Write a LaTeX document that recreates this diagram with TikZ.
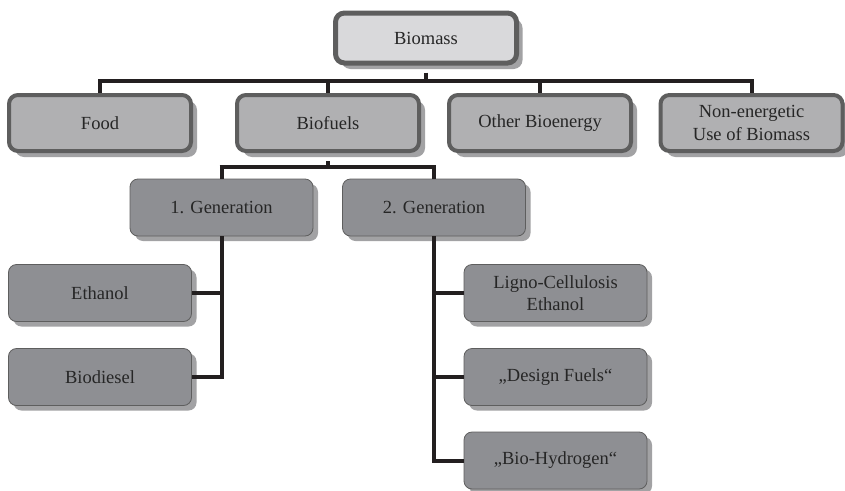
\documentclass[tikz,border=0pt]{standalone}
\usepackage{fontspec}
\setmainfont{Liberation Serif}
\usetikzlibrary{shadows}
\definecolor{topfill}{HTML}{D9D9DB}
\definecolor{midfill}{HTML}{B0B0B2}
\definecolor{lowfill}{HTML}{8E8F93}
\definecolor{bordergray}{HTML}{5E5E5E}
\definecolor{shadowgray}{HTML}{A2A2A4}
\definecolor{lineblack}{HTML}{231F20}
\tikzset{
  topbox/.style={draw=bordergray, line width=5pt, fill=topfill, rounded corners=9pt,
    minimum width=181pt, minimum height=50pt, align=center, inner sep=0pt,
    drop shadow={shadow xshift=6pt, shadow yshift=-6pt, fill=shadowgray, opacity=1}},
  midbox/.style={draw=bordergray, line width=4pt, fill=midfill, rounded corners=9pt,
    minimum width=182pt, minimum height=56pt, align=center, inner sep=0pt,
    drop shadow={shadow xshift=6pt, shadow yshift=-6pt, fill=shadowgray, opacity=1}},
  lowbox/.style={draw=bordergray, line width=0.8pt, fill=lowfill, rounded corners=8pt,
    minimum width=183pt, minimum height=57pt, align=center, inner sep=0pt,
    drop shadow={shadow xshift=5pt, shadow yshift=-5pt, fill=shadowgray, opacity=1}},
  conn/.style={draw=lineblack, line width=4pt},
}
\begin{document}
\begin{tikzpicture}[x=1pt, y=-1pt, font=\fontsize{18.5}{22.5}\selectfont, text=black!85]
\useasboundingbox (0,0) rectangle (845,490);
\fill[white] (0,0) rectangle (845,490);
\coordinate (barA) at (0,81);
\coordinate (barB) at (0,167);
% nodes
\node[topbox] (bio) at (426,38) {Biomass};
\node[midbox] (food) at (100,123) {Food};
\node[midbox] (fuels) at (328,123) {Biofuels};
\node[midbox] (other) at (540,123) {Other Bioenergy};
\node[midbox] (nonen) at (751.5,123) {Non-energetic\\Use of Biomass};
\node[lowbox] (gen1) at (221.5,207.5) {1. Generation};
\node[lowbox] (gen2) at (434,207.5) {2. Generation};
\node[lowbox] (eth) at (100,293) {Ethanol};
\node[lowbox] (dies) at (100,377) {Biodiesel};
\node[lowbox] (ligno) at (555.5,293) {Ligno-Cellulosis\\Ethanol};
\node[lowbox] (design) at (555.5,377) {„Design Fuels“};
\node[lowbox] (hydro) at (555.5,460.5) {„Bio-Hydrogen“};
% level 1 to level 2
\draw[conn] (bio.south) ++(0,7) -- (bio.south |- barA);
\draw[conn] (food.north |- barA) ++(-2,0) -- (nonen.north |- barA) -- ++(2,0);
\draw[conn] (food.north |- barA) -- (food.north);
\draw[conn] (fuels.north |- barA) -- (fuels.north);
\draw[conn] (other.north |- barA) -- (other.north);
\draw[conn] (nonen.north |- barA) -- (nonen.north);
% level 2 to level 3
\draw[conn] (fuels.south) ++(0,8) -- (fuels.south |- barB);
\draw[conn] (gen1.north |- barB) ++(-2,0) -- (gen2.north |- barB) -- ++(2,0);
\draw[conn] (gen1.north |- barB) -- (gen1.north);
\draw[conn] (gen2.north |- barB) -- (gen2.north);
% level 3 to level 4
\draw[conn] (gen1.south) -- (gen1.south |- dies.east) -- (dies.east);
\draw[conn] (gen1.south |- eth.east) -- (eth.east);
\draw[conn] (gen2.south) -- (gen2.south |- hydro.west) -- (hydro.west);
\draw[conn] (gen2.south |- ligno.west) -- (ligno.west);
\draw[conn] (gen2.south |- design.west) -- (design.west);
\end{tikzpicture}
\end{document}
